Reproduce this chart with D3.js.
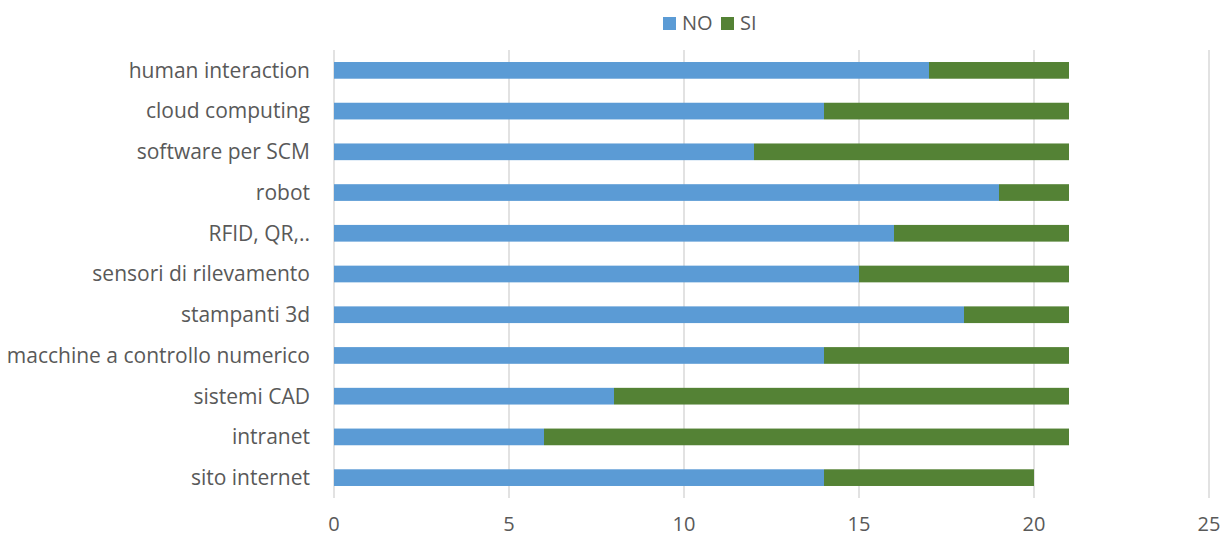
<!DOCTYPE html>
<html>
<head>
<meta charset="utf-8">
<script src="https://cdn.jsdelivr.net/npm/d3@7"></script>
<style>
  body { margin: 0; background: #fff; }
  text { font-family: "Open Sans", sans-serif; fill: #595959; }
</style>
</head>
<body>
<div id="chart"></div>
<script>
// dati (dall'alto in basso)
var categories = ["human interaction", "cloud computing", "software per SCM", "robot",
  "RFID, QR,..", "sensori di rilevamento", "stampanti 3d", "macchine a controllo numerico",
  "sistemi CAD", "intranet", "sito internet"];
var noValues = [17, 14, 12, 19, 16, 15, 18, 14, 8, 6, 14];
var siValues = [4, 7, 9, 2, 5, 6, 3, 7, 13, 15, 6];
var xTicks = [0, 5, 10, 15, 20, 25];
var seriesNames = ["NO", "SI"];
var colors = ["#5B9BD5", "#548235"];

var width = 1231, height = 538;
var margin = { top: 50, right: 22, bottom: 40, left: 334 };

var svg = d3.select("#chart").append("svg")
  .attr("width", width)
  .attr("height", height);

var x = d3.scaleLinear().domain([0, 25]).range([margin.left, width - margin.right]);
var y = d3.scaleBand().domain(categories)
  .range([margin.top, height - margin.bottom])
  .paddingInner(0.59).paddingOuter(0.295);

// griglia verticale
svg.append("g").selectAll("line")
  .data(xTicks)
  .enter().append("line")
  .attr("x1", d => x(d)).attr("x2", d => x(d))
  .attr("y1", margin.top).attr("y2", height - margin.bottom)
  .attr("stroke", "#d9d9d9").attr("stroke-width", 1.5);

// barre impilate
var rows = categories.map((c, i) => ({ cat: c, NO: noValues[i], SI: siValues[i] }));
var stack = d3.stack().keys(seriesNames)(rows);

svg.append("g").selectAll("g")
  .data(stack)
  .enter().append("g")
  .attr("fill", (d, i) => colors[i])
  .selectAll("rect")
  .data(d => d)
  .enter().append("rect")
  .attr("x", d => x(d[0]))
  .attr("width", d => x(d[1]) - x(d[0]))
  .attr("y", d => y(d.data.cat))
  .attr("height", y.bandwidth());

// etichette categorie
svg.append("g").selectAll("text")
  .data(categories)
  .enter().append("text")
  .attr("x", margin.left - 24)
  .attr("y", d => y(d) + y.bandwidth() / 2)
  .attr("dy", "0.35em")
  .attr("text-anchor", "end")
  .style("font-size", "21px")
  .text(d => d);

// etichette asse x
svg.append("g").selectAll("text")
  .data(xTicks)
  .enter().append("text")
  .attr("x", d => x(d))
  .attr("y", 531)
  .attr("text-anchor", "middle")
  .style("font-size", "20px")
  .text(d => d);

// legenda
var legend = svg.append("g");
var lx = [663, 721];
seriesNames.forEach(function (s, i) {
  legend.append("rect")
    .attr("x", lx[i]).attr("y", 17)
    .attr("width", 13).attr("height", 13)
    .attr("fill", colors[i]);
  legend.append("text")
    .attr("x", lx[i] + 19).attr("y", 30)
    .style("font-size", "20px")
    .text(s);
});
</script>
</body>
</html>
